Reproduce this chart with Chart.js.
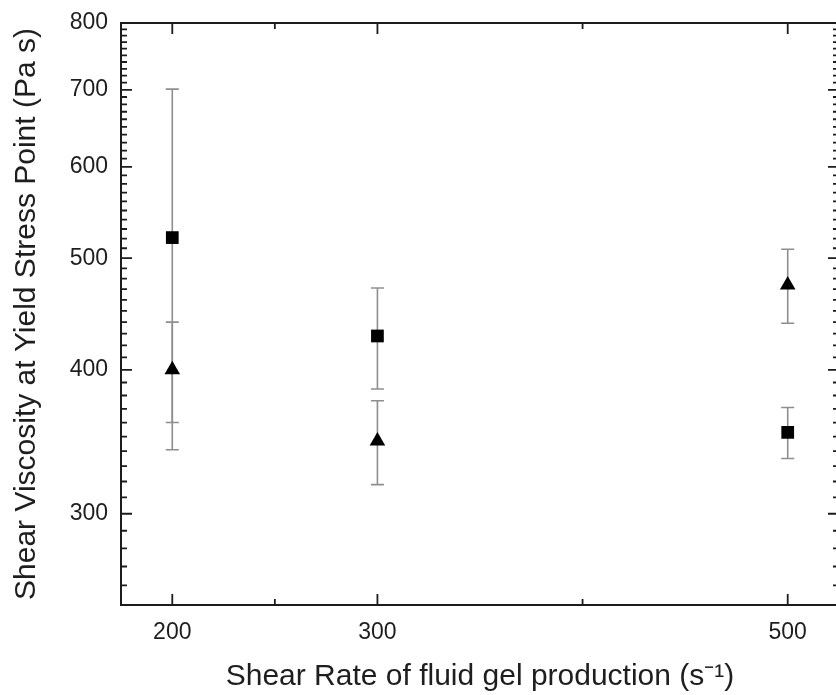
<!DOCTYPE html>
<html><head><meta charset="utf-8">
<script src="https://cdn.jsdelivr.net/npm/chart.js@4.4.1/dist/chart.umd.min.js"></script>
<style>
html,body{margin:0;padding:0;overflow:hidden;background:#fff;}
#wrap{width:848px;height:695px;position:relative;}
</style></head><body>
<div id="wrap"><canvas id="c"></canvas></div>
<script>
// ---- data ----
const shearRates = [200, 300, 500];
const squareMean = [521, 428, 353];
const squareErr = [180, 43, 18];
const triangleMean = [400, 347, 474];
const triangleErr = [40, 29, 35];

const xMajorTicks = [200, 300, 500];
const xMinorTicks = [250, 400];
const xTickLabels = ['200', '300', '500'];
const yMajorTicks = [300, 400, 500, 600, 700, 800];
const yTickLabels = ['300', '400', '500', '600', '700', '800'];
const yMinorStep = 10;

const xTitle = 'Shear Rate of fluid gel production (s\u207B\u00B9)';
const yTitle = 'Shear Viscosity at Yield Stress Point (Pa s)';

const yMinorTicks = [];
for (let v = 260; v < 800; v += yMinorStep) if (!yMajorTicks.includes(v)) yMinorTicks.push(v);

const FONT = '"Liberation Sans", Arial, sans-serif';
const AXIS_COLOR = '#1c1c1c';
const TEXT_COLOR = '#1e1e1e';

const errorBars = {
  id: 'errorBars',
  beforeDatasetsDraw(chart) {
    const {ctx, scales: {x, y}} = chart;
    ctx.save();
    ctx.strokeStyle = '#8e8e8e';
    ctx.lineWidth = 1.6;
    const sets = [[squareMean, squareErr], [triangleMean, triangleErr]];
    sets.forEach(([m, e]) => {
      shearRates.forEach((r, i) => {
        const px = x.getPixelForValue(r);
        const top = y.getPixelForValue(m[i] + e[i]);
        const bot = y.getPixelForValue(m[i] - e[i]);
        const hw = 6.5;
        ctx.beginPath();
        ctx.moveTo(px, top); ctx.lineTo(px, bot);
        ctx.moveTo(px - hw, top); ctx.lineTo(px + hw, top);
        ctx.moveTo(px - hw, bot); ctx.lineTo(px + hw, bot);
        ctx.stroke();
      });
    });
    ctx.restore();
  }
};

const frame = {
  id: 'frame',
  afterDatasetsDraw(chart) {
    const {ctx, chartArea: a, scales: {x, y}} = chart;
    ctx.save();
    ctx.strokeStyle = AXIS_COLOR;
    ctx.lineWidth = 2;
    ctx.strokeRect(a.left, a.top, a.right - a.left, a.bottom - a.top);
    ctx.lineWidth = 1.8;
    const major = 11, minor = 6;
    ctx.beginPath();
    const xt = (v, len) => {
      const p = x.getPixelForValue(v);
      ctx.moveTo(p, a.bottom); ctx.lineTo(p, a.bottom - len);
      ctx.moveTo(p, a.top); ctx.lineTo(p, a.top + len);
    };
    const yt = (v, len) => {
      const p = y.getPixelForValue(v);
      ctx.moveTo(a.left, p); ctx.lineTo(a.left + len, p);
      ctx.moveTo(a.right, p); ctx.lineTo(a.right - len, p);
    };
    xMajorTicks.forEach(v => xt(v, major));
    xMinorTicks.forEach(v => xt(v, minor));
    yMajorTicks.forEach(v => yt(v, major));
    yMinorTicks.forEach(v => yt(v, minor));
    ctx.stroke();
    ctx.restore();
  }
};

new Chart(document.getElementById('c'), {
  type: 'scatter',
  data: {
    datasets: [
      {
        label: 'squares',
        data: shearRates.map((r, i) => ({x: r, y: squareMean[i]})),
        pointStyle: 'rect', pointRadius: 9, pointHoverRadius: 9,
        backgroundColor: '#000', borderColor: '#000', borderWidth: 0
      },
      {
        label: 'triangles',
        data: shearRates.map((r, i) => ({x: r, y: triangleMean[i]})),
        pointStyle: 'triangle', pointRadius: 9, pointHoverRadius: 9,
        backgroundColor: '#000', borderColor: '#000', borderWidth: 0
      }
    ]
  },
  options: {
    responsive: true,
    maintainAspectRatio: false,
    animation: false,
    events: [],
    layout: {padding: {left: 0, top: 23, right: 5, bottom: 0}},
    plugins: {legend: {display: false}, tooltip: {enabled: false}},
    scales: {
      x: {
        type: 'linear', min: 175, max: 525,
        afterBuildTicks: s => { s.ticks = xMajorTicks.map(v => ({value: v})); },
        ticks: {
          callback: v => xTickLabels[xMajorTicks.indexOf(v)],
          font: {family: FONT, size: 23}, color: TEXT_COLOR, padding: 14, maxRotation: 0
        },
        grid: {display: false, drawTicks: false},
        border: {display: false},
        title: {display: true, text: xTitle, font: {family: FONT, size: 30}, color: TEXT_COLOR, padding: {top: 0, bottom: 0}},
        afterFit: s => { s.height = 90; s.paddingLeft = 0; s.paddingRight = 0; }
      },
      y: {
        type: 'logarithmic', min: 250, max: 800,
        afterBuildTicks: s => { s.ticks = yMajorTicks.map(v => ({value: v})); },
        ticks: {
          callback: v => yTickLabels[yMajorTicks.indexOf(v)],
          font: {family: FONT, size: 23}, color: TEXT_COLOR, padding: 13
        },
        grid: {display: false, drawTicks: false},
        border: {display: false},
        title: {display: true, text: yTitle, font: {family: FONT, size: 30}, color: TEXT_COLOR, padding: {top: 9, bottom: 0}},
        afterFit: s => { s.width = 121; s.paddingTop = 0; s.paddingBottom = 0; }
      }
    }
  },
  plugins: [errorBars, frame]
});
</script>
</body></html>
